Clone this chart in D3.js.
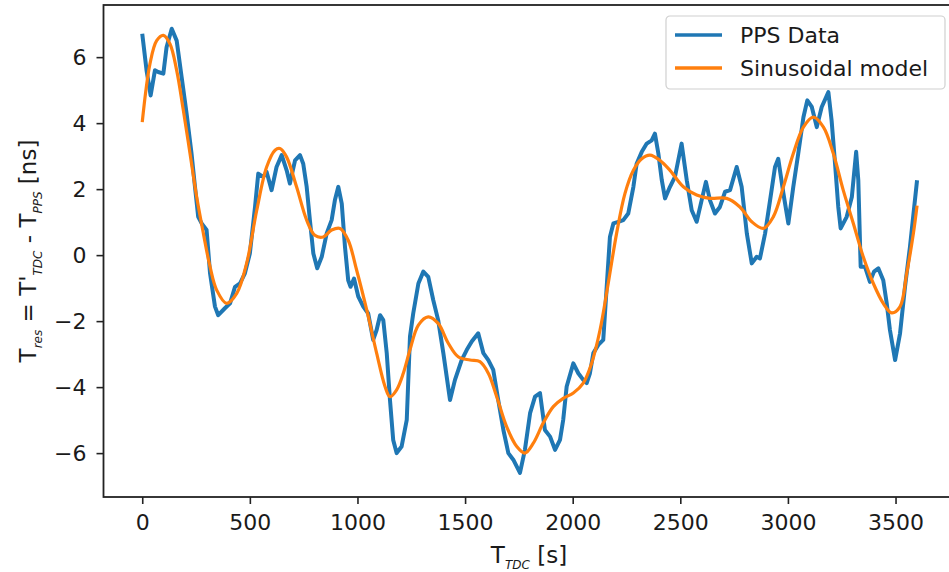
<!DOCTYPE html>
<html>
<head>
<meta charset="utf-8">
<script src="https://cdn.jsdelivr.net/npm/d3@7"></script>
<style>
  body { margin: 0; background: #fff; }
  svg text { font-family: "DejaVu Sans", sans-serif; fill: #1a1a1a; }
</style>
</head>
<body>
<div id="chart"></div>
<script>
// PPS residuals (seconds, ns)
const ppsTime = [0, 20, 39, 59, 74, 98, 113, 137, 160, 183, 206, 229, 245, 260, 276, 299, 315, 338, 353, 384, 408, 431, 454, 477, 500, 524, 539, 562, 578, 601, 624, 648, 671, 686, 710, 733, 748, 764, 779, 795, 813, 834, 857, 880, 895, 911, 927, 942, 957, 968, 984, 1004, 1027, 1050, 1073, 1089, 1105, 1120, 1136, 1151, 1166, 1182, 1205, 1229, 1244, 1259, 1283, 1306, 1329, 1352, 1375, 1399, 1430, 1453, 1484, 1508, 1531, 1561, 1585, 1608, 1631, 1654, 1678, 1701, 1724, 1755, 1778, 1802, 1825, 1848, 1871, 1895, 1918, 1941, 1956, 1972, 2003, 2026, 2049, 2065, 2080, 2096, 2119, 2142, 2158, 2173, 2189, 2212, 2235, 2258, 2282, 2297, 2321, 2344, 2367, 2382, 2398, 2414, 2429, 2452, 2475, 2506, 2530, 2553, 2576, 2599, 2619, 2638, 2661, 2684, 2708, 2731, 2762, 2785, 2809, 2832, 2855, 2870, 2894, 2917, 2940, 2955, 2979, 3002, 3025, 3048, 3072, 3090, 3111, 3134, 3157, 3188, 3203, 3219, 3234, 3245, 3273, 3297, 3317, 3327, 3338, 3358, 3381, 3400, 3420, 3443, 3459, 3474, 3498, 3521, 3544, 3567, 3600];
const ppsValue = [6.71, 5.6, 4.84, 5.6, 5.55, 5.5, 6.3, 6.86, 6.5, 5.4, 4.29, 3.08, 2.07, 1.16, 0.96, 0.76, -0.55, -1.56, -1.82, -1.61, -1.46, -0.96, -0.86, -0.55, 0.05, 1.46, 2.47, 2.37, 2.52, 1.97, 2.67, 3.03, 2.57, 2.17, 2.87, 3.03, 2.77, 2.07, 1.06, 0.05, -0.4, -0.05, 0.66, 1.06, 1.66, 2.07, 1.56, 0.25, -0.76, -0.96, -0.71, -1.26, -1.56, -1.77, -2.57, -2.27, -1.82, -1.97, -2.97, -4.39, -5.6, -6.0, -5.8, -4.99, -2.47, -1.77, -0.86, -0.5, -0.66, -1.36, -1.97, -2.97, -4.39, -3.78, -3.18, -2.87, -2.62, -2.37, -2.97, -3.18, -3.48, -4.39, -5.3, -6.0, -6.2, -6.6, -5.9, -4.79, -4.29, -4.18, -5.3, -5.5, -5.9, -5.6, -4.99, -3.98, -3.28, -3.58, -3.78, -3.88, -3.58, -2.97, -2.72, -2.57, -0.96, 0.55, 0.96, 1.01, 1.06, 1.26, 2.07, 2.77, 3.13, 3.38, 3.48, 3.68, 3.08, 2.27, 1.72, 2.07, 2.37, 3.38, 2.27, 1.36, 1.01, 1.66, 2.22, 1.66, 1.26, 1.46, 1.92, 1.97, 2.67, 2.07, 0.66, -0.25, -0.05, -0.1, 0.66, 1.66, 2.67, 2.92, 1.87, 0.96, 2.07, 3.08, 4.18, 4.69, 4.49, 3.88, 4.49, 4.94, 4.08, 2.77, 1.46, 0.81, 1.16, 1.76, 3.13, 2.27, -0.35, -0.35, -0.81, -0.5, -0.4, -0.76, -1.46, -2.27, -3.18, -2.37, -0.96, 0.25, 2.27];

// fitted sinusoidal model
const modelTime = [0, 36, 67, 98, 129, 160, 191, 222, 253, 284, 315, 346, 392, 439, 485, 532, 578, 617, 640, 671, 717, 764, 802, 841, 880, 919, 957, 996, 1043, 1089, 1128, 1151, 1182, 1213, 1244, 1283, 1329, 1375, 1422, 1468, 1523, 1569, 1608, 1647, 1693, 1740, 1778, 1817, 1863, 1910, 1956, 2003, 2049, 2088, 2127, 2165, 2204, 2243, 2282, 2321, 2359, 2406, 2452, 2514, 2576, 2638, 2715, 2777, 2832, 2886, 2932, 2979, 3025, 3072, 3118, 3165, 3211, 3257, 3304, 3350, 3397, 3443, 3482, 3521, 3552, 3583, 3600];
const modelValue = [4.03, 5.8, 6.5, 6.66, 6.4, 5.6, 4.39, 3.08, 1.76, 0.66, -0.35, -1.06, -1.46, -1.16, -0.25, 1.36, 2.67, 3.18, 3.23, 2.97, 2.07, 1.06, 0.6, 0.55, 0.76, 0.81, 0.45, -0.45, -1.66, -2.97, -3.98, -4.29, -4.08, -3.58, -2.87, -2.12, -1.87, -2.07, -2.67, -3.08, -3.18, -3.23, -3.58, -4.29, -5.2, -5.8, -6.0, -5.7, -5.09, -4.59, -4.34, -4.18, -3.88, -3.28, -2.27, -0.86, 0.66, 1.87, 2.57, 2.92, 3.03, 2.87, 2.57, 2.07, 1.82, 1.72, 1.72, 1.46, 1.01, 0.81, 1.16, 2.07, 3.08, 3.88, 4.18, 3.88, 3.08, 1.97, 0.96, -0.05, -0.86, -1.46, -1.75, -1.56, -0.55, 0.66, 1.5];

const xTicks = [0, 500, 1000, 1500, 2000, 2500, 3000, 3500];
const yTicks = [-6, -4, -2, 0, 2, 4, 6];
const seriesNames = ["PPS Data", "Sinusoidal model"];
const seriesColors = ["#1f77b4", "#ff7f0e"];

const W = 949, H = 572;
const margin = { top: 5, left: 103.5 };
const width = 852.3, height = 492;

const svg = d3.select("#chart").append("svg")
    .attr("width", W).attr("height", H);
const g = svg.append("g").attr("transform", `translate(${margin.left},${margin.top})`);

const x = d3.scaleLinear().domain([-180, 3780]).range([0, width]);
const y = d3.scaleLinear().domain([-7.33, 7.58]).range([height, 0]);

const pps = ppsTime.map((t, i) => ({ t, v: ppsValue[i] }));
const model = modelTime.map((t, i) => ({ t, v: modelValue[i] }));

g.append("path").datum(pps)
    .attr("fill", "none").attr("stroke", seriesColors[0])
    .attr("stroke-width", 4).attr("stroke-linejoin", "round")
    .attr("d", d3.line().x(d => x(d.t)).y(d => y(d.v)));

g.append("path").datum(model)
    .attr("fill", "none").attr("stroke", seriesColors[1])
    .attr("stroke-width", 3.2)
    .attr("d", d3.line().x(d => x(d.t)).y(d => y(d.v)).curve(d3.curveCatmullRom));

// axes
const fmt = d3.format("d");
const xAxis = g.append("g").attr("transform", `translate(0,${height})`)
    .call(d3.axisBottom(x).tickValues(xTicks).tickFormat(fmt).tickSize(7).tickPadding(10).tickSizeOuter(0));
const yAxis = g.append("g")
    .call(d3.axisLeft(y).tickValues(yTicks).tickFormat(fmt).tickSize(7).tickPadding(10).tickSizeOuter(0));
[xAxis, yAxis].forEach(a => {
    a.select(".domain").remove();
    a.selectAll(".tick line").attr("stroke", "#222").attr("stroke-width", 1.6);
    a.selectAll(".tick text").attr("font-size", 22).attr("fill", "#1a1a1a")
        .style("font-family", "DejaVu Sans");
});

g.append("rect").attr("width", width).attr("height", height)
    .attr("fill", "none").attr("stroke", "#222").attr("stroke-width", 1.8);

// legend
const lg = svg.append("g").attr("transform", "translate(666,16)");
lg.append("rect").attr("width", 279).attr("height", 73).attr("rx", 4)
    .attr("fill", "#fff").attr("fill-opacity", 0.8)
    .attr("stroke", "#d0d0d0").attr("stroke-width", 1.2);
seriesNames.forEach((name, i) => {
    const yy = 19 + i * 33;
    lg.append("line").attr("x1", 9).attr("x2", 56).attr("y1", yy).attr("y2", yy)
        .attr("stroke", seriesColors[i]).attr("stroke-width", 3.4);
    lg.append("text").attr("x", 74).attr("y", yy + 8).attr("font-size", 22).text(name);
});

// axis labels
const xl = svg.append("text").attr("x", 529).attr("y", 563)
    .attr("text-anchor", "middle").attr("font-size", 23);
xl.append("tspan").text("T");
xl.append("tspan").attr("font-size", 12).attr("font-style", "italic").attr("dy", 6).text("TDC");
xl.append("tspan").attr("dy", -6).text(" [s]");

const yl = svg.append("text")
    .attr("transform", "translate(36,251) rotate(-90)")
    .attr("text-anchor", "middle").attr("font-size", 23);
yl.append("tspan").text("T");
yl.append("tspan").attr("font-size", 12).attr("font-style", "italic").attr("dy", 6).text("res");
yl.append("tspan").attr("dy", -6).text(" = T'");
yl.append("tspan").attr("font-size", 12).attr("font-style", "italic").attr("dy", 6).text("TDC");
yl.append("tspan").attr("dy", -6).text(" - T");
yl.append("tspan").attr("font-size", 12).attr("font-style", "italic").attr("dy", 6).text("PPS");
yl.append("tspan").attr("dy", -6).text(" [ns]");
</script>
</body>
</html>
